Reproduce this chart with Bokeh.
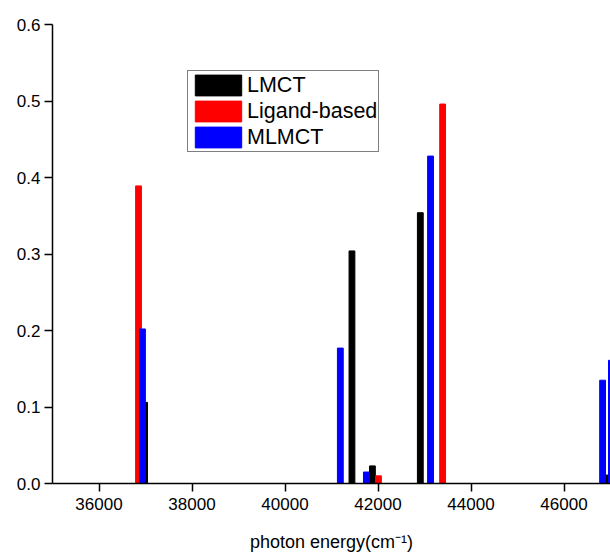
from bokeh.plotting import figure
from bokeh.models import Range1d, FixedTicker, Legend, LegendItem, PrintfTickFormatter
from bokeh.embed import file_html
from bokeh.resources import INLINE

# LMCT (black)
lmct_x = [36980, 41440, 41880, 42910, 46920]
lmct_y = [0.106, 0.304, 0.023, 0.354, 0.011]
# Ligand-based (red)
lig_x = [36850, 42010, 43390]
lig_y = [0.389, 0.010, 0.496]
# MLMCT (blue)
mlm_x = [36935, 41190, 41750, 43130, 46830, 47020]
mlm_y = [0.202, 0.177, 0.015, 0.428, 0.135, 0.161]

x_ticks = [36000, 38000, 40000, 42000, 44000, 46000]
y_ticks = [0.0, 0.1, 0.2, 0.3, 0.4, 0.5, 0.6]
bar_w = 125

FONT = "Liberation Sans"

p = figure(width=610, height=554, output_backend="svg", toolbar_location=None,
           x_range=Range1d(35000, 47000), y_range=Range1d(0, 0.6),
           min_border_left=52, min_border_right=0, min_border_top=24, min_border_bottom=71)
p.outline_line_color = None
p.xgrid.visible = False
p.ygrid.visible = False

r_black = p.vbar(x=lmct_x, top=lmct_y, bottom=0, width=bar_w, fill_color="black", line_color="black")
r_red = p.vbar(x=lig_x, top=lig_y, bottom=0, width=bar_w, fill_color="red", line_color="red")
r_blue = p.vbar(x=mlm_x, top=mlm_y, bottom=0, width=bar_w, fill_color="blue", line_color="blue")

for ax in (p.xaxis[0], p.yaxis[0]):
    ax.axis_line_color = "black"
    ax.axis_line_width = 1.5
    ax.major_tick_line_color = "black"
    ax.major_tick_line_width = 1.5
    ax.major_tick_in = 0
    ax.major_tick_out = 8
    ax.minor_tick_line_color = None
    ax.major_label_text_font = FONT
    ax.major_label_text_font_size = "17px"
    ax.major_label_text_color = "black"
    ax.axis_label_text_font = FONT
    ax.axis_label_text_font_style = "normal"
    ax.axis_label_text_font_size = "18px"
    ax.axis_label_text_color = "black"

p.xaxis.ticker = FixedTicker(ticks=x_ticks)
p.yaxis.ticker = FixedTicker(ticks=y_ticks)
p.yaxis.formatter = PrintfTickFormatter(format="%.1f")
p.yaxis.major_label_standoff = 4
p.xaxis.axis_label = "photon energy(cm⁻¹)"
p.xaxis.major_label_standoff = 6
p.xaxis.axis_label_standoff = 19

legend = Legend(items=[
    LegendItem(label="LMCT", renderers=[r_black]),
    LegendItem(label="Ligand-based", renderers=[r_red]),
    LegendItem(label="MLMCT", renderers=[r_blue]),
], location=(135, 331))
legend.border_line_color = "black"
legend.border_line_width = 1
legend.background_fill_alpha = 1
legend.padding = 1
legend.spacing = 0
legend.margin = 0
legend.glyph_width = 58
legend.glyph_height = 26
legend.label_height = 26
legend.label_standoff = 0
legend.label_text_font = FONT
legend.label_text_font_size = "21.5px"
legend.label_text_color = "black"
p.add_layout(legend, "center")

open("out.html", "w").write(file_html(p, INLINE))
